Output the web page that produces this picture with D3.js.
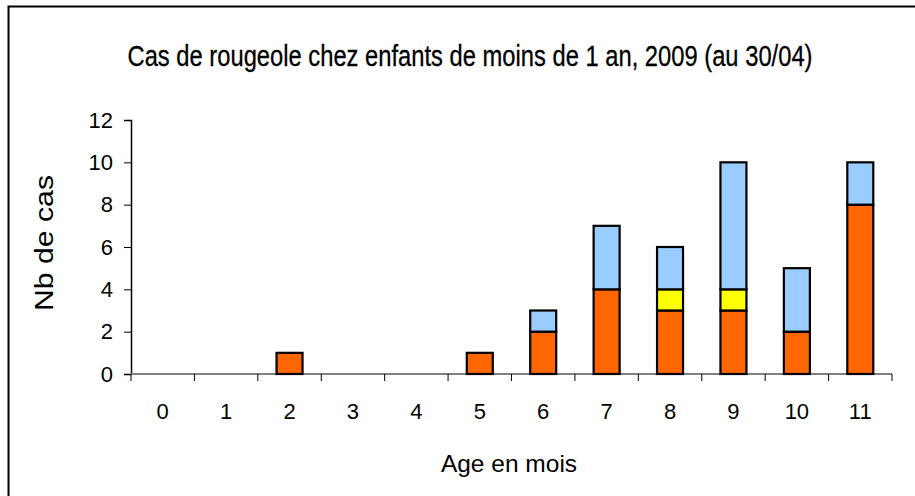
<!DOCTYPE html>
<html>
<head>
<meta charset="utf-8">
<script src="https://cdn.jsdelivr.net/npm/d3@7"></script>
<style>
  body { margin: 0; background: #fff; }
  svg { display: block; }
  text { font-family: "Liberation Sans", Arial, sans-serif; fill: #000; }
</style>
</head>
<body>
<svg id="chart"></svg>
<script>
var title = "Cas de rougeole chez enfants de moins de 1 an, 2009 (au 30/04)",
    xTitle = "Age en mois",
    yTitle = "Nb de cas";

var ages = ["0", "1", "2", "3", "4", "5", "6", "7", "8", "9", "10", "11"];
var orangeCases = [0, 0, 1, 0, 0, 1, 2, 4, 3, 3, 2, 8];
var yellowCases = [0, 0, 0, 0, 0, 0, 0, 0, 1, 1, 0, 0];
var blueCases = [0, 0, 0, 0, 0, 0, 1, 3, 2, 6, 3, 2];
var yTicks = [0, 2, 4, 6, 8, 10, 12];

var seriesKeys = ["orange", "yellow", "blue"],
    colors = {orange: "#ff6600", yellow: "#ffff00", blue: "#99ccff"};

var width = 915, height = 496,
    marginLeft = 131, marginRight = 23, marginTop = 120, marginBottom = 122;

var rows = ages.map(function (a, i) {
    return {age: a, orange: orangeCases[i], yellow: yellowCases[i], blue: blueCases[i]};
});

var svg = d3.select("#chart").attr("width", width).attr("height", height);

// chart frame (runs off the right and bottom edges)
svg.append("rect")
    .attr("x", 8.5).attr("y", 6.5)
    .attr("width", width + 20).attr("height", height + 20)
    .attr("fill", "none").attr("stroke", "#000").attr("stroke-width", 2);

var x = d3.scaleBand()
    .domain(ages)
    .range([marginLeft, width - marginRight])
    .paddingInner(0.59)
    .paddingOuter(0.295);

var y = d3.scaleLinear()
    .domain([0, 12])
    .range([height - marginBottom, marginTop]);

var stack = d3.stack().keys(seriesKeys)(rows);

// y axis
var yAxis = d3.axisLeft(y).tickValues(yTicks).tickSize(7).tickPadding(11);
var gy = svg.append("g")
    .attr("transform", "translate(" + marginLeft + ",0)")
    .call(yAxis);
gy.select(".domain").attr("stroke", "#000").attr("stroke-width", 1.5);
gy.selectAll(".tick line").attr("stroke", "#000");
gy.selectAll("text").attr("font-size", 22).attr("font-family", "Liberation Sans, Arial, sans-serif");

// x axis: ticks on category boundaries
var step = x.step(), gap = step - x.bandwidth();
var bounds = ages.map(function (a) { return x(a) - gap / 2; })
    .concat([x(ages[ages.length - 1]) + x.bandwidth() + gap / 2]);
var gx = svg.append("g");
gx.append("line")
    .attr("x1", marginLeft).attr("x2", width - marginRight)
    .attr("y1", y(0)).attr("y2", y(0))
    .attr("stroke", "#808080").attr("stroke-width", 2);
gx.selectAll("line.tick")
    .data(bounds)
    .join("line")
    .attr("class", "tick")
    .attr("x1", function (d) { return d; }).attr("x2", function (d) { return d; })
    .attr("y1", y(0)).attr("y2", y(0) + 7)
    .attr("stroke", "#000").attr("stroke-width", 1);
gx.selectAll("text")
    .data(ages)
    .join("text")
    .attr("x", function (d) { return x(d) + x.bandwidth() / 2; })
    .attr("y", y(0) + 45)
    .attr("text-anchor", "middle")
    .attr("font-size", 22)
    .text(function (d) { return d; });

// stacked bars
svg.append("g")
    .selectAll("g")
    .data(stack)
    .join("g")
    .attr("fill", function (d) { return colors[d.key]; })
    .selectAll("rect")
    .data(function (d) { return d.filter(function (p) { return p[1] > p[0]; }); })
    .join("rect")
    .attr("x", function (d) { return x(d.data.age); })
    .attr("y", function (d) { return y(d[1]); })
    .attr("width", x.bandwidth())
    .attr("height", function (d) { return y(d[0]) - y(d[1]); })
    .attr("stroke", "#000")
    .attr("stroke-width", 2.2);

// titles (title squeezed horizontally to mimic a narrow face)
var titleText = svg.append("text")
    .attr("text-anchor", "middle")
    .attr("font-size", 29)
    .attr("stroke", "#000").attr("stroke-width", 0.3)
    .text(title);
var naturalWidth = titleText.node().getComputedTextLength();
titleText.attr("transform", "translate(470,66) scale(" + (685 / naturalWidth) + ",1)");

svg.append("text")
    .attr("x", 509).attr("y", 472)
    .attr("text-anchor", "middle")
    .attr("font-size", 24.5)
    .text(xTitle);

svg.append("text")
    .attr("transform", "translate(53,243) rotate(-90)")
    .attr("text-anchor", "middle")
    .attr("font-size", 25)
    .attr("textLength", 136).attr("lengthAdjust", "spacingAndGlyphs")
    .text(yTitle);
</script>
</body>
</html>
